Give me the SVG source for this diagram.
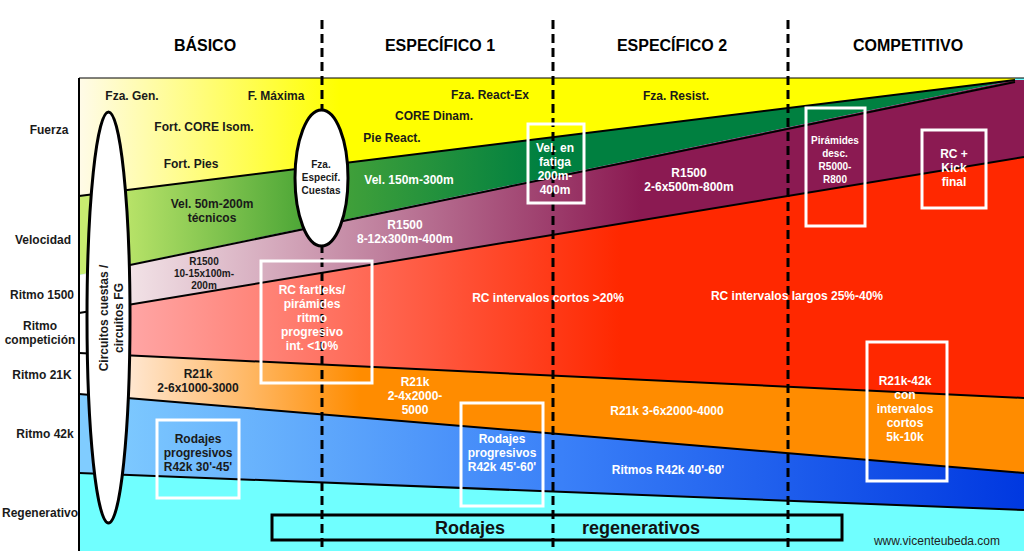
<svg xmlns="http://www.w3.org/2000/svg" width="1024" height="551" viewBox="0 0 1024 551">
<style>
text{font-family:"Liberation Sans",Arial,sans-serif;font-weight:bold;text-anchor:middle;font-size:12px}
.d{fill:#1a1a1a}.w{fill:#fff}.s{font-size:10px}
.h{font-size:16px;fill:#000}.l{font-size:12px;fill:#1a1a1a}
.bl{fill:none;stroke:#000;stroke-width:2}
.wb{fill:none;stroke:#fff;stroke-width:3}
.dash{stroke:#000;stroke-width:3;stroke-dasharray:9,5}
</style>
<defs>
<linearGradient id="gy" gradientUnits="userSpaceOnUse" x1="79" x2="340" y1="0" y2="0"><stop offset="0" stop-color="#fffbe8"/><stop offset="1" stop-color="#ffff00"/></linearGradient>
<linearGradient id="gg" gradientUnits="userSpaceOnUse" x1="100" x2="540" y1="0" y2="0"><stop offset="0" stop-color="#c8ec70"/><stop offset="0.45" stop-color="#50a838"/><stop offset="1" stop-color="#008040"/></linearGradient>
<linearGradient id="gp" gradientUnits="userSpaceOnUse" x1="90" x2="640" y1="0" y2="0"><stop offset="0" stop-color="#faf2f2"/><stop offset="1" stop-color="#8b1a52"/></linearGradient>
<linearGradient id="gr" gradientUnits="userSpaceOnUse" x1="120" x2="620" y1="0" y2="0"><stop offset="0" stop-color="#ffa8a8"/><stop offset="1" stop-color="#ff2800"/></linearGradient>
<linearGradient id="go" gradientUnits="userSpaceOnUse" x1="120" x2="360" y1="0" y2="0"><stop offset="0" stop-color="#ffead8"/><stop offset="1" stop-color="#ff8c00"/></linearGradient>
<linearGradient id="gb" gradientUnits="userSpaceOnUse" x1="100" x2="1024" y1="0" y2="0"><stop offset="0" stop-color="#80ccff"/><stop offset="0.5" stop-color="#3a80f8"/><stop offset="1" stop-color="#0038e0"/></linearGradient>
</defs>
<rect width="1024" height="551" fill="#fff"/>
<g id="bands">
<rect x="79" y="78" width="945" height="473" fill="#70ffff"/>
<polygon points="79,78 1015,78 1015,80 79,196" fill="url(#gy)"/>
<polygon points="79,196 1015,80 79,275" fill="url(#gg)"/>
<polygon points="79,275 1015,80 1024,80 1024,157 79,313" fill="url(#gp)"/>
<polygon points="79,313 1024,157 1024,398 79,353" fill="url(#gr)"/>
<polygon points="79,353 1024,398 1024,473 79,394" fill="url(#go)"/>
<polygon points="79,394 1024,473 1024,510 79,473" fill="url(#gb)"/>
<rect x="79" y="275" width="9" height="119" fill="#fff"/>
<g class="bl">
<line x1="79" y1="196" x2="1015" y2="80"/>
<line x1="130" y1="265" x2="1015" y2="82"/>
<line x1="79" y1="313" x2="1024" y2="157"/>
<line x1="79" y1="353" x2="1024" y2="398"/>
<line x1="79" y1="394" x2="1024" y2="473"/>
<line x1="79" y1="473" x2="1024" y2="510"/>
<line x1="79" y1="78" x2="79" y2="551"/>
<line x1="79" y1="78" x2="1024" y2="78" stroke-width="1"/>
</g>
</g>
<g id="phases">
<line class="dash" x1="322" y1="20" x2="322" y2="551"/>
<line class="dash" x1="553" y1="20" x2="553" y2="551"/>
<line class="dash" x1="788" y1="20" x2="788" y2="551"/>
<text class="h" x="205" y="51">BÁSICO</text>
<text class="h" x="440" y="51">ESPECÍFICO 1</text>
<text class="h" x="672" y="51">ESPECÍFICO 2</text>
<text class="h" x="908" y="51">COMPETITIVO</text>
</g>
<g id="rows">
<text class="l" x="49" y="134">Fuerza</text>
<text class="l" x="43" y="244">Velocidad</text>
<text class="l" x="42" y="299">Ritmo 1500</text>
<text class="l" x="40" y="330">Ritmo</text>
<text class="l" x="40" y="344">competición</text>
<text class="l" x="42" y="379">Ritmo 21K</text>
<text class="l" x="45" y="438">Ritmo 42k</text>
<text class="l s" x="40" y="517">Regenerativo</text>
</g>
<g id="ellipse-circuitos">
<ellipse cx="108.5" cy="317.5" rx="21.5" ry="205.5" fill="#fff" stroke="#000" stroke-width="3"/>
<text class="d" transform="translate(108,318) rotate(-90)">Circuitos cuestas /</text>
<text class="d" transform="translate(123,318) rotate(-90)">circuitos FG</text>
</g>
<g id="ellipse-cuestas">
<ellipse cx="321.5" cy="178" rx="26.5" ry="68" fill="#fff" stroke="#000" stroke-width="3"/>
<text class="d s" x="321" y="168">Fza.</text>
<text class="d s" x="321" y="181">Especif.</text>
<text class="d s" x="321" y="194">Cuestas</text>
</g>
<g id="labels">
<text class="d" x="132" y="100">Fza. Gen.</text>
<text class="d" x="276" y="100">F. Máxima</text>
<text class="d" x="204" y="131">Fort. CORE Isom.</text>
<text class="d" x="191" y="168">Fort. Pies</text>
<text class="d" x="490" y="99">Fza. React-Ex</text>
<text class="d" x="434" y="120">CORE Dinam.</text>
<text class="d" x="392" y="142">Pie React.</text>
<text class="d" x="676" y="100">Fza. Resist.</text>
<text class="w" x="409" y="184">Vel. 150m-300m</text>
<text class="d" x="212" y="208">Vel. 50m-200m</text>
<text class="d" x="212" y="222">técnicos</text>
<text class="w" x="405" y="229">R1500</text>
<text class="w" x="405" y="243">8-12x300m-400m</text>
<text class="d s" x="204" y="265">R1500</text>
<text class="d s" x="204" y="277">10-15x100m-</text>
<text class="d s" x="204" y="289">200m</text>
<text class="w" x="548" y="302">RC intervalos cortos &gt;20%</text>
<text class="w" x="797" y="300">RC intervalos largos 25%-40%</text>
<text class="w" x="689" y="177">R1500</text>
<text class="w" x="689" y="191">2-6x500m-800m</text>
<text class="d" x="198" y="378">R21k</text>
<text class="d" x="198" y="392">2-6x1000-3000</text>
<text class="w" x="415" y="386">R21k</text>
<text class="w" x="415" y="400">2-4x2000-</text>
<text class="w" x="415" y="414">5000</text>
<text class="w" x="667" y="415">R21k 3-6x2000-4000</text>
<text class="w" x="668" y="474">Ritmos R42k 40'-60'</text>
<text style="font-weight:normal;fill:#222" x="937" y="545">www.vicenteubeda.com</text>
</g>
<g id="box-fartleks">
<rect class="wb" x="261" y="261" width="111" height="122"/>
<text class="w" x="312" y="294">RC fartleks/</text>
<text class="w" x="312" y="308">pirámides</text>
<text class="w" x="312" y="322">ritmo</text>
<text class="w" x="312" y="336">progresivo</text>
<text class="w" x="312" y="350">int. &lt;10%</text>
</g>
<g id="box-rod1">
<rect class="wb" x="157" y="420" width="82" height="78"/>
<text class="d" x="198" y="443">Rodajes</text>
<text class="d" x="198" y="457">progresivos</text>
<text class="d" x="198" y="471">R42k 30'-45'</text>
</g>
<g id="box-rod2">
<rect class="wb" x="461" y="403" width="82" height="103"/>
<text class="w" x="502" y="443">Rodajes</text>
<text class="w" x="502" y="457">progresivos</text>
<text class="w" x="502" y="471">R42k 45'-60'</text>
</g>
<g id="box-fatiga">
<rect class="wb" x="528" y="124" width="56" height="79"/>
<text class="w" x="555" y="152">Vel. en</text>
<text class="w" x="555" y="166">fatiga</text>
<text class="w" x="555" y="180">200m-</text>
<text class="w" x="555" y="194">400m</text>
</g>
<g id="box-piramides">
<rect class="wb" x="806" y="108" width="59" height="118"/>
<text class="w s" x="835" y="144">Pirámides</text>
<text class="w s" x="835" y="157">desc.</text>
<text class="w s" x="835" y="170">R5000-</text>
<text class="w s" x="835" y="183">R800</text>
</g>
<g id="box-kick">
<rect class="wb" x="922" y="130" width="64" height="78"/>
<text class="w" x="954" y="158">RC +</text>
<text class="w" x="954" y="172">Kick</text>
<text class="w" x="954" y="186">final</text>
</g>
<g id="box-r21k42k">
<rect class="wb" x="867" y="342" width="80" height="139"/>
<text class="w" x="905" y="385">R21k-42k</text>
<text class="w" x="905" y="399">con</text>
<text class="w" x="905" y="413">intervalos</text>
<text class="w" x="905" y="427">cortos</text>
<text class="w" x="905" y="441">5k-10k</text>
</g>
<g id="box-regenerativos">
<rect x="272" y="515" width="570" height="25" fill="none" stroke="#000" stroke-width="3"/>
<text style="font-size:18px;fill:#111" x="470" y="534">Rodajes</text>
<text style="font-size:18px;fill:#111" x="641" y="534">regenerativos</text>
</g>
</svg>
